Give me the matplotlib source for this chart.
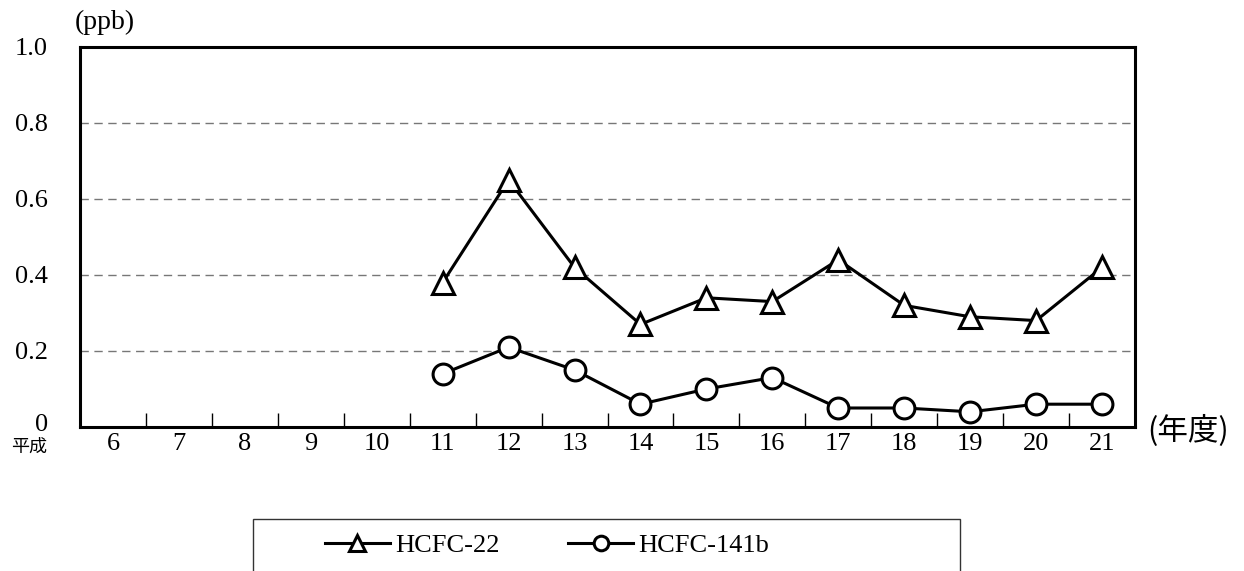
import matplotlib
matplotlib.use("Agg")
import matplotlib.pyplot as plt
from matplotlib.patches import Rectangle
from matplotlib.ticker import FixedLocator
from matplotlib.transforms import ScaledTranslation

plt.rcParams['font.family'] = ['Liberation Serif', 'Noto Sans CJK JP', 'DejaVu Sans']

# data (ppb), fiscal years Heisei 6..21
years = [6, 7, 8, 9, 10, 11, 12, 13, 14, 15, 16, 17, 18, 19, 20, 21]
data_years = [11, 12, 13, 14, 15, 16, 17, 18, 19, 20, 21]
hcfc22 = [0.38, 0.65, 0.42, 0.27, 0.34, 0.33, 0.44, 0.32, 0.29, 0.28, 0.42]
hcfc141b = [0.14, 0.21, 0.15, 0.06, 0.10, 0.13, 0.05, 0.05, 0.04, 0.06, 0.06]
y_ticks = [0, 0.2, 0.4, 0.6, 0.8, 1.0]
y_labels = ['0', '0.2', '0.4', '0.6', '0.8', '1.0']

fig = plt.figure(figsize=(12.44, 5.71), dpi=100)
ax = fig.add_axes([0.0643, 0.2522, 0.8481, 0.6655])

xi = [years.index(y) for y in data_years]
ax.plot(xi, hcfc22, color='black', lw=2.2, marker='^', ms=16,
        mfc='white', mec='black', mew=2.2, label='HCFC-22', zorder=3)
ax.plot(xi, hcfc141b, color='black', lw=2.2, marker='o', ms=15,
        mfc='white', mec='black', mew=2.2, label='HCFC-141b', zorder=3)

ax.set_xlim(-0.5, len(years) - 0.5)
ax.set_ylim(0, 1.0)
ax.set_yticks(y_ticks)
ax.set_yticklabels(y_labels)
ax.set_xticks(range(len(years)))
ax.set_xticklabels([str(y) for y in years])
ax.xaxis.set_minor_locator(FixedLocator([i + 0.5 for i in range(len(years) - 1)]))
ax.tick_params(axis='x', which='major', length=0, pad=4, labelsize=19)
ax.tick_params(axis='x', which='minor', direction='in', length=10, width=1, color='black')
ax.tick_params(axis='y', length=0, pad=23, labelsize=19)

# nudge the "0" label up a little so it clears 平成
zero = ax.get_yticklabels()[0]
zero.set_transform(zero.get_transform() + ScaledTranslation(0, 0.04, fig.dpi_scale_trans))

for v in y_ticks[1:-1]:
    ax.axhline(v, color='#777777', lw=1, ls=(0, (6, 4)), zorder=1)
for s in ax.spines.values():
    s.set_linewidth(2.2)

fig.text(105 / 1244, 1 - 22 / 571, '(ppb)', fontsize=20, ha='center', va='center')
fig.text(29 / 1244, 1 - 447 / 571, '平成', fontsize=13, ha='center', va='center',
         family=['Noto Sans CJK JP'])
fig.text(1188 / 1244, 1 - 431 / 571, '(年度)', fontsize=22, ha='center', va='center',
         family=['Noto Sans CJK JP'])

fig.patches.append(Rectangle((253 / 1244, -0.05), (960 - 253) / 1244, 0.05 + 52 / 571,
                             transform=fig.transFigure, fill=False, ec='#333333', lw=1))
fig.legend(loc='center left', bbox_to_anchor=(301 / 1244, 1 - 545 / 571), ncol=2,
           frameon=False, fontsize=19, handlelength=2.46, handletextpad=0.2,
           columnspacing=2.6, markerscale=0.7)

fig.savefig('out.png', dpi=100)
